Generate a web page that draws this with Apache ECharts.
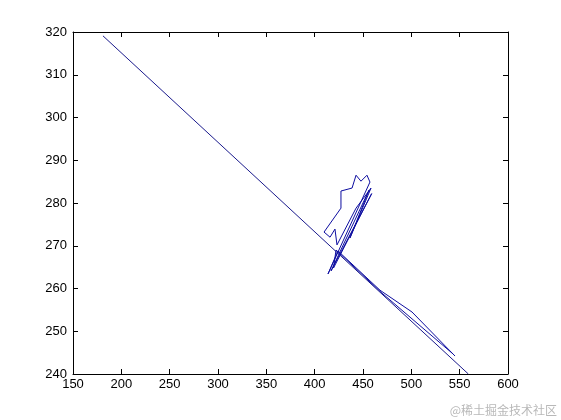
<!DOCTYPE html>
<html>
<head>
<meta charset="utf-8">
<title>track</title>
<script src="https://cdn.jsdelivr.net/npm/echarts@6/dist/echarts.min.js"></script>
<style>
  html, body { margin: 0; padding: 0; background: #fff; }
  #chart { width: 561px; height: 420px; }
</style>
</head>
<body>
<div id="chart"></div>
<script>
// long straight pass
var mainX = [181, 559]
var mainY = [319.1, 240]

// the tangled track round 420..460
var trackX = [545.2, 500.7, 467.6, 424.1, 413.8, 457.2, 454.1, 447.9, 442.8, 438.7, 427.2, 427.2, 409.7, 415.9, 421.0, 423.1, 442.8, 458.3, 436.5, 456.2, 416.9, 459.0, 419.5, 422.1, 469.7, 543.1]
var trackY = [244.2, 254.5, 259.6, 268.8, 263.4, 284.9, 286.5, 285.1, 286.5, 283.5, 282.8, 278.8, 273.2, 272.0, 273.9, 270.2, 278.8, 283.5, 271.8, 283.0, 264.1, 282.2, 264.8, 269.0, 258.9, 244.7]

var xTicks = [150, 600, 50]
var yTicks = [240, 320, 10]

var watermark = '@稀土掘金技术社区'

function pairs(xs, ys) {
  return xs.map(function (x, i) { return [x, ys[i]] })
}

var chart = echarts.init(document.getElementById('chart'))

var axisFont = {fontFamily: 'Liberation Sans', fontSize: 13, color: '#000'}
var boxLine = {show: true, lineStyle: {color: '#000', width: 1}}
var inTick = {show: true, inside: true, length: 5, lineStyle: {color: '#000'}}

chart.setOption({
  backgroundColor: '#fff',
  animation: false,
  grid: {left: 73, right: 53, top: 32, bottom: 46},
  xAxis: [
    {
      type: 'value', min: xTicks[0], max: xTicks[1], interval: xTicks[2],
      axisLine: boxLine, axisTick: inTick, splitLine: {show: false},
      axisLabel: Object.assign({margin: 4}, axisFont)
    },
    {
      type: 'value', position: 'top', min: xTicks[0], max: xTicks[1], interval: xTicks[2],
      axisLine: boxLine, axisTick: inTick, splitLine: {show: false},
      axisLabel: {show: false}
    }
  ],
  yAxis: [
    {
      type: 'value', min: yTicks[0], max: yTicks[1], interval: yTicks[2],
      axisLine: boxLine, axisTick: inTick, splitLine: {show: false},
      axisLabel: Object.assign({margin: 6}, axisFont)
    },
    {
      type: 'value', position: 'right', min: yTicks[0], max: yTicks[1], interval: yTicks[2],
      axisLine: boxLine, axisTick: inTick, splitLine: {show: false},
      axisLabel: {show: false}
    }
  ],
  series: [
    {
      type: 'line', data: pairs(mainX, mainY),
      showSymbol: false, symbol: 'none',
      lineStyle: {color: '#1a1a8c', width: 1}
    },
    {
      type: 'line', data: pairs(trackX, trackY),
      showSymbol: false, symbol: 'none',
      lineStyle: {color: '#0d0da0', width: 1}
    }
  ],
  graphic: [
    {
      type: 'text', right: 4, bottom: 4,
      style: {text: watermark, fill: '#b8b8b8', font: '12px "Noto Sans CJK SC"'}
    }
  ]
})
</script>
</body>
</html>
